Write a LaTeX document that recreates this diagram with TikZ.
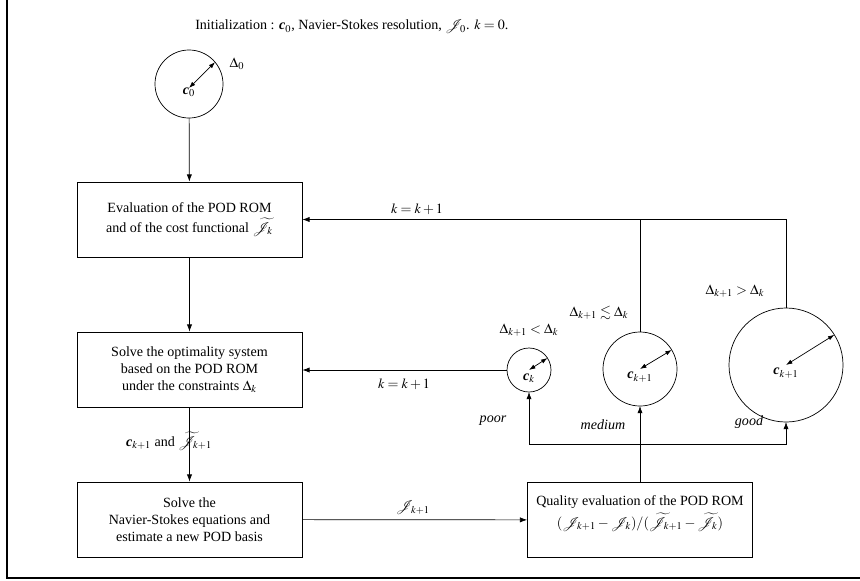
\documentclass[tikz,border=0pt]{standalone}
\usepackage{mathptmx}
\usepackage{amssymb}
\usepackage{fontspec}
\setmainfont{Liberation Serif}
\usetikzlibrary{positioning, arrows.meta}
\newcommand{\cvec}[1]{\mbox{\bfseries\itshape c}_{#1}}
\newcommand{\Jt}[1]{\widetilde{\mathcal{J}}_{#1}}

\begin{document}
\begin{tikzpicture}[
    x=0.025cm, y=-0.025cm,
    every node/.style={font=\normalsize},
    stepbox/.style={
        draw,
        line width=0.5pt,
        minimum width=5.625cm,
        minimum height=1.875cm,
        align=center,
        inner sep=3pt,
    },
    ball/.style={
        circle,
        draw,
        line width=0.5pt,
        inner sep=0pt,
        outer sep=0pt,
    },
    rel/.style={
        -{Latex[length=1.8mm, width=1.3mm]},
        line width=0.5pt,
    },
    radius/.style={
        {Latex[length=1.6mm, width=1.1mm]}-{Latex[length=1.6mm, width=1.1mm]},
        line width=0.5pt,
    },
    quality/.style={font=\itshape},
]
\useasboundingbox (0,0) rectangle (860,580);

% page frame
\draw[line width=1.2pt] (7,0) -- (7,578) -- (860,578);

\node[anchor=west, inner xsep=0pt] (init) at (195,27)
    {Initialization : $\cvec{0}$, Navier-Stokes resolution, $\mathcal{J}_0$. $k=0$.};

% trust region of the start point
\node[ball, minimum size=1.7cm] (czero) at (189,84) {};
\node at ([yshift=-0.2cm]czero.center) {$\cvec{0}$};
\draw[radius] ([yshift=-0.1cm]czero.center) -- (czero.40);
\node (dzero) at (237,64) {$\Delta_0$};

% main loop
\node[stepbox] (evalbox) at (189.5,219.5) {
    Evaluation of the POD ROM\\[2pt]
    and of the cost functional $\Jt{k}$
};

\node[stepbox] (optbox) at (189.5,369.5) {
    Solve the optimality system\\
    based on the POD ROM\\
    under the constraints $\Delta_k$
};

\node[stepbox] (nsbox) at (189.5,519.5) {
    Solve the\\
    Navier-Stokes equations and\\
    estimate a new POD basis
};

\node[stepbox] (qualbox) at (640,520) {
    Quality evaluation of the POD ROM\\[2pt]
    $(\mathcal{J}_{k+1}-\mathcal{J}_k)/(\Jt{k+1}-\Jt{k})$\\
    \mbox{}
};

% new trust regions
\node[ball, minimum size=1.1cm] (cpoor) at (529,370) {};
\node at ([yshift=-0.2cm]cpoor.center) {$\cvec{k}$};
\draw[radius] (cpoor.center) -- (cpoor.33);

\node[ball, minimum size=1.85cm] (cmed) at (640,369) {};
\node at ([yshift=-0.2cm]cmed.center) {$\cvec{k+1}$};
\draw[radius] (cmed.center) -- (cmed.31);

\node[ball, minimum size=2.85cm] (cgood) at (786,365) {};
\node at ([yshift=-0.2cm]cgood.center) {$\cvec{k+1}$};
\draw[radius] (cgood.center) -- (cgood.32);

\node (dpoor) at (529,330) {$\Delta_{k+1} < \Delta_k$};
\node (dmed) at (599,313) {$\Delta_{k+1} \lesssim \Delta_k$};
\node (dgood) at (735,291) {$\Delta_{k+1} > \Delta_k$};

\node[quality] (lpoor) at (493,421) {poor};
\node[quality] (lmed) at (603,425) {medium};
\node[quality] (lgood) at (749,422) {good};

\coordinate (split) at (640,444);

\draw[rel] (czero) -- (evalbox);
\draw[rel] (evalbox) -- (optbox);
\draw[rel] (optbox) -- (nsbox);
\draw[rel] (nsbox) -- (qualbox);
\draw[rel] (qualbox.north) -- (cmed.south);
\draw[rel] (split) -| (cpoor.south);
\draw[rel] (split) -| (cgood.south);
\draw[rel] (cpoor.west) -- (optbox.east |- cpoor.west);
\draw[rel] (cmed.north) |- (evalbox.east);
\draw (cgood.north) |- (cmed.north |- evalbox.east);

\node (ktop) at (417,209) {$k=k+1$};
\node (kmid) at (404,384) {$k=k+1$};
\node (jnew) at (413,508) {$\mathcal{J}_{k+1}$};
\node (cnew) at (169,441) {$\cvec{k+1}$ and $\Jt{k+1}$};

\end{tikzpicture}
\end{document}
